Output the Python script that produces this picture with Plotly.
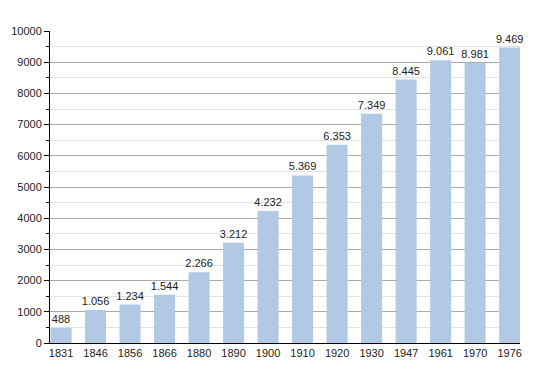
import plotly.graph_objects as go

years = ["1831", "1846", "1856", "1866", "1880", "1890", "1900", "1910", "1920", "1930", "1947", "1961", "1970", "1976"]
population = [488, 1056, 1234, 1544, 2266, 3212, 4232, 5369, 6353, 7349, 8445, 9061, 8981, 9469]
labels = ["488", "1.056", "1.234", "1.544", "2.266", "3.212", "4.232", "5.369", "6.353", "7.349", "8.445", "9.061", "8.981", "9.469"]

fig = go.Figure()
fig.add_trace(go.Bar(
    x=years, y=population, text=labels, textposition="outside",
    marker=dict(color="#b1c9e5", line=dict(width=0)),
    textfont=dict(size=11, color="#222222"),
    constraintext="none",
    cliponaxis=False, width=0.61,
))

fig.update_layout(
    width=542, height=365,
    margin=dict(l=42, r=30, t=23, b=30, autoexpand=False),
    paper_bgcolor="white", plot_bgcolor="white",
    font=dict(family="Liberation Sans, Arial, sans-serif", size=11, color="#222222"),
    showlegend=False,
    xaxis=dict(type="category", range=[-0.32, 13.3], showline=True, linecolor="black", linewidth=1,
               ticks="", showgrid=False, tickfont=dict(size=11), automargin=False),
    yaxis=dict(range=[0, 10000], dtick=1000, showline=True, linecolor="black", linewidth=1,
               ticks="outside", ticklen=5, tickcolor="black", gridcolor="#aaaaaa", gridwidth=1,
               tickformat="d", zeroline=False, tickfont=dict(size=11), automargin=False,
               minor=dict(dtick=500, showgrid=True, gridcolor="#e3e3e3", ticks="outside", ticklen=3, tickcolor="black")),
)

fig.write_html("out.html")
